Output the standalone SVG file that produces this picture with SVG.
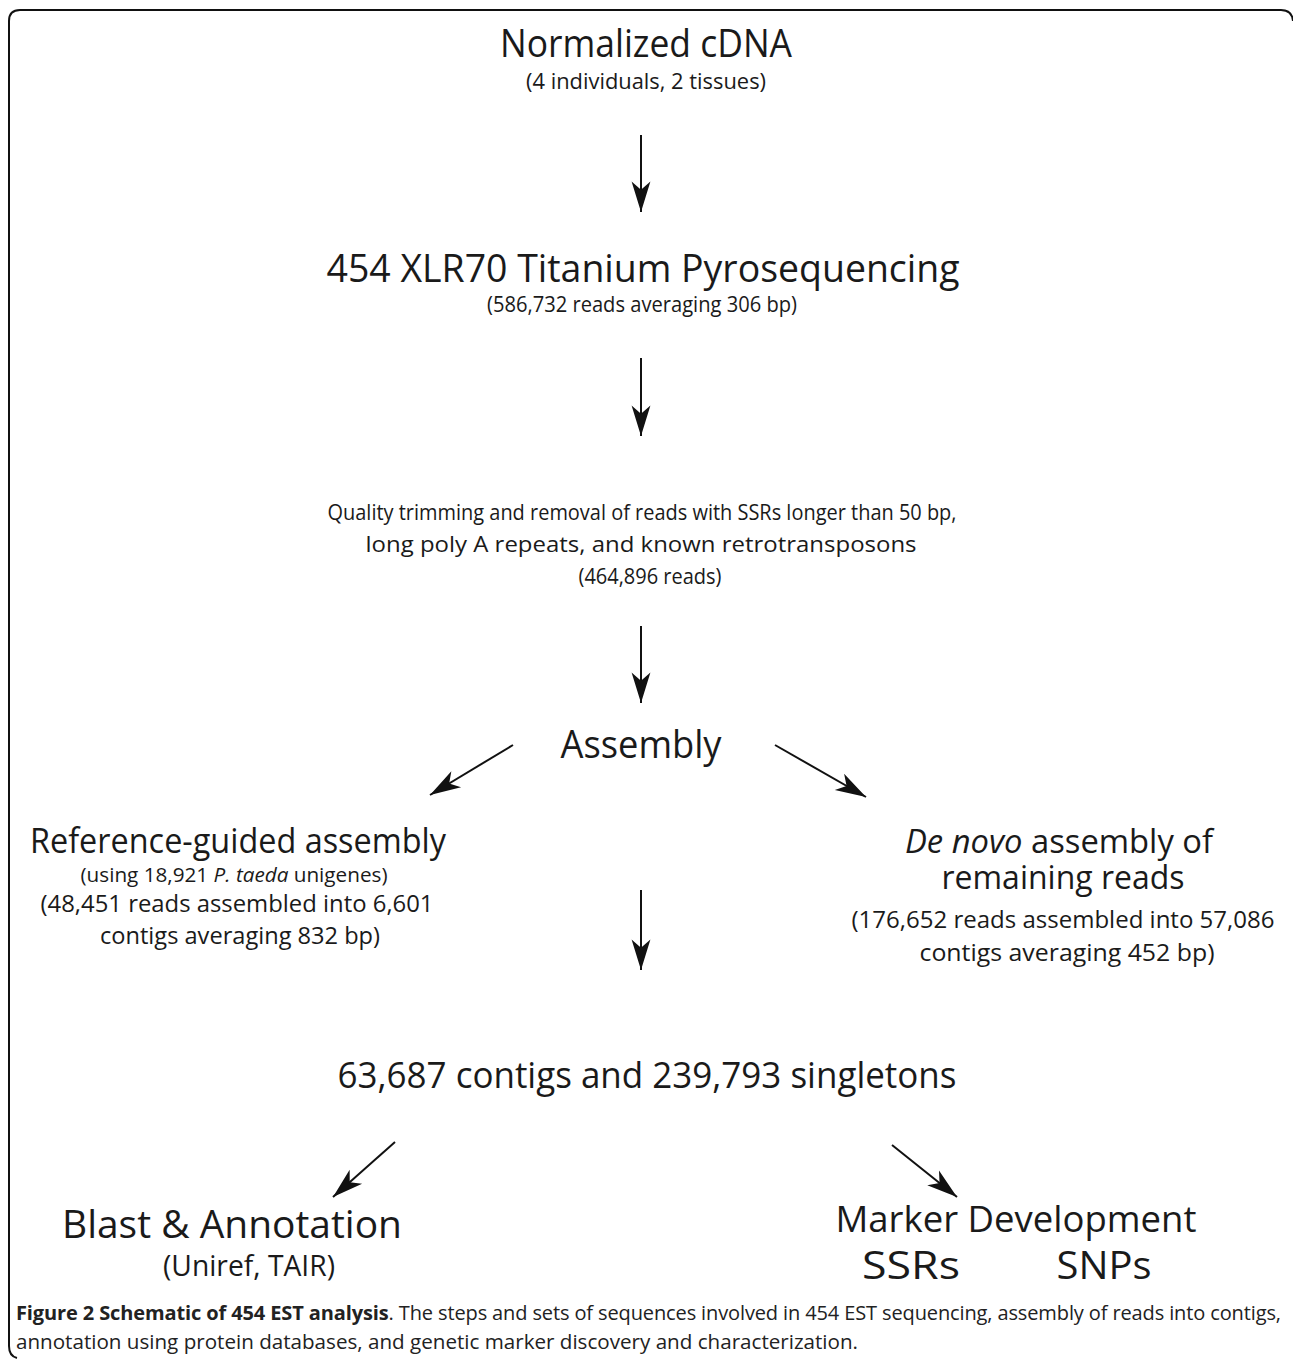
<svg xmlns="http://www.w3.org/2000/svg" width="1293" height="1359" viewBox="0 0 1293 1359">
<defs>
<style>
text{font-family:"Open Sans","Noto Sans","DejaVu Sans",sans-serif;fill:#1a1a1a;text-anchor:middle}
.c{font-family:"Open Sans","Noto Sans","DejaVu Sans",sans-serif;fill:#222;text-anchor:start;font-size:20px}
.arr{stroke:#111;stroke-width:2;fill:none;marker-end:url(#ah)}
.frame{stroke:#111;stroke-width:2;fill:none}
</style>
<marker id="ah" markerUnits="userSpaceOnUse" markerWidth="40" markerHeight="40" viewBox="-30 -12 34 24" refX="0" refY="0" orient="auto">
<path d="M0,0 L-26,-8 L-19,0 L-26,8 Z" fill="#111"/>
</marker>
</defs>
<rect width="1293" height="1359" fill="#fff"/>
<path class="frame" d="M9,1346 L9,21 Q9,10 20,10 L1281,10 Q1292,10 1293,21"/>
<path class="frame" d="M9,1346 Q9,1356 17,1358"/>

<g id="connectors">
<line class="arr" x1="641" y1="135" x2="641" y2="212"/>
<line class="arr" x1="641" y1="358" x2="641" y2="436"/>
<line class="arr" x1="641" y1="626" x2="641" y2="703"/>
<line class="arr" x1="513" y1="745" x2="430" y2="795"/>
<line class="arr" x1="775" y1="745" x2="866" y2="797"/>
<line class="arr" x1="641" y1="890" x2="641" y2="970"/>
<line class="arr" x1="395" y1="1142" x2="333" y2="1197"/>
<line class="arr" x1="892" y1="1145" x2="957" y2="1197"/>
</g>

<g id="n1">
<text x="646" y="57" font-size="38" textLength="292" lengthAdjust="spacingAndGlyphs">Normalized cDNA</text>
<text x="646" y="89" font-size="22" textLength="240" lengthAdjust="spacingAndGlyphs">(4 individuals, 2 tissues)</text>
</g>
<g id="n2">
<text x="643" y="282" font-size="38" textLength="633" lengthAdjust="spacingAndGlyphs">454 XLR70 Titanium Pyrosequencing</text>
<text x="642" y="312" font-size="21" textLength="310" lengthAdjust="spacingAndGlyphs">(586,732 reads averaging 306 bp)</text>
</g>
<g id="n3">
<text x="642" y="520" font-size="21" textLength="629" lengthAdjust="spacingAndGlyphs">Quality trimming and removal of reads with SSRs longer than 50 bp,</text>
<text x="641" y="552" font-size="22.5" textLength="551" lengthAdjust="spacingAndGlyphs">long poly A repeats, and known retrotransposons</text>
<text x="650" y="584" font-size="21" textLength="143" lengthAdjust="spacingAndGlyphs">(464,896 reads)</text>
</g>
<g id="n4">
<text x="641" y="758" font-size="38" textLength="161" lengthAdjust="spacingAndGlyphs">Assembly</text>
</g>
<g id="n5">
<text x="238" y="853" font-size="34" textLength="416" lengthAdjust="spacingAndGlyphs">Reference-guided assembly</text>
<text x="234" y="882" font-size="20" textLength="307" lengthAdjust="spacingAndGlyphs">(using 18,921 <tspan font-style="italic">P. taeda</tspan> unigenes)</text>
<text x="237" y="912" font-size="24" textLength="393" lengthAdjust="spacingAndGlyphs">(48,451 reads assembled into 6,601</text>
<text x="240" y="944" font-size="24" textLength="280" lengthAdjust="spacingAndGlyphs">contigs averaging 832 bp)</text>
</g>
<g id="n6">
<text x="1059" y="853" font-size="32" textLength="308" lengthAdjust="spacingAndGlyphs"><tspan font-style="italic">De novo</tspan> assembly of</text>
<text x="1063" y="889" font-size="32" textLength="243" lengthAdjust="spacingAndGlyphs">remaining reads</text>
<text x="1063" y="928" font-size="24" textLength="423" lengthAdjust="spacingAndGlyphs">(176,652 reads assembled into 57,086</text>
<text x="1067" y="961" font-size="24" textLength="295" lengthAdjust="spacingAndGlyphs">contigs averaging 452 bp)</text>
</g>
<g id="n7">
<text x="647" y="1088" font-size="36" textLength="619" lengthAdjust="spacingAndGlyphs">63,687 contigs and 239,793 singletons</text>
</g>
<g id="n8">
<text x="232" y="1238" font-size="38" textLength="340" lengthAdjust="spacingAndGlyphs">Blast &amp; Annotation</text>
<text x="249" y="1276" font-size="30" textLength="172" lengthAdjust="spacingAndGlyphs">(Uniref, TAIR)</text>
</g>
<g id="n9">
<text x="1016" y="1232" font-size="37" textLength="361" lengthAdjust="spacingAndGlyphs">Marker Development</text>
<text x="911" y="1279" font-size="38" textLength="98" lengthAdjust="spacingAndGlyphs">SSRs</text>
<text x="1104" y="1279" font-size="38" textLength="95" lengthAdjust="spacingAndGlyphs">SNPs</text>
</g>

<g id="caption">
<text class="c" x="16" y="1320" textLength="1265" lengthAdjust="spacing"><tspan font-weight="bold">Figure 2 Schematic of 454 EST analysis</tspan>. The steps and sets of sequences involved in 454 EST sequencing, assembly of reads into contigs,</text>
<text class="c" x="16" y="1349" textLength="842" lengthAdjust="spacingAndGlyphs">annotation using protein databases, and genetic marker discovery and characterization.</text>
</g>
</svg>
